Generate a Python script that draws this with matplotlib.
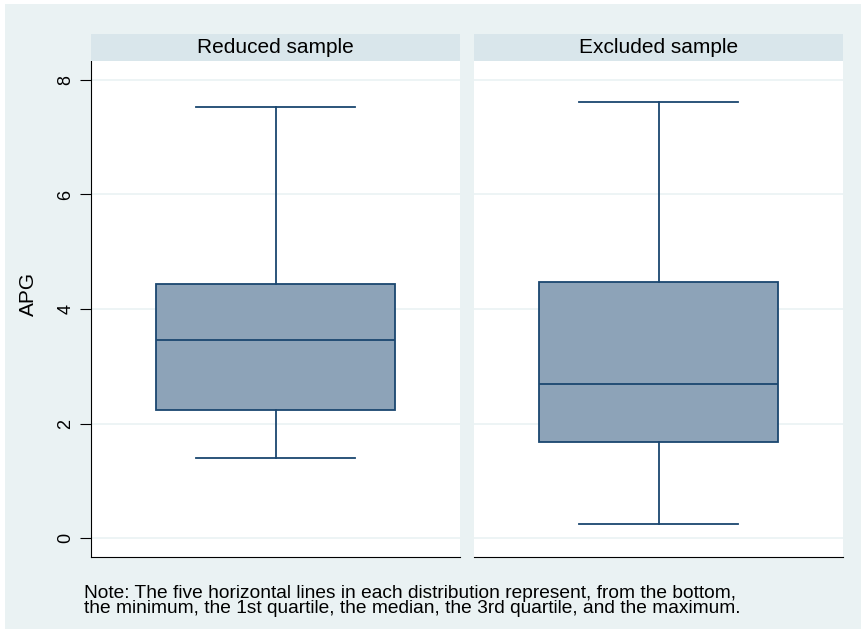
import matplotlib.pyplot as plt
from matplotlib.patches import Rectangle

plt.rcParams['font.family'] = ['Liberation Sans', 'DejaVu Sans']

# five-number summaries of APG per sample
groups = ['Reduced sample', 'Excluded sample']
mins = [1.40, 0.24]
q1s = [2.24, 1.68]
medians = [3.46, 2.69]
q3s = [4.44, 4.47]
maxs = [7.53, 7.62]
yticks = [0, 2, 4, 6, 8]

W, H = 861, 631
fig = plt.figure(figsize=(W / 100, H / 100), dpi=100)
fig.patch.set_facecolor('white')
# light graph region behind everything
fig.patches.append(Rectangle((5 / W, 0.003), 1 - 5 / W, 1 - 4 / H - 0.003,
                             transform=fig.transFigure, facecolor='#EAF2F3',
                             edgecolor='none', zorder=-1))

navy = '#1A476F'
fill = '#8DA3B8'
panels = [(91, 460), (474, 843)]
top, bottom, strip_top = 61, 557, 34

for i, (x0, x1) in enumerate(panels):
    ax = fig.add_axes([x0 / W, 1 - bottom / H, (x1 - x0) / W, (bottom - top) / H])
    ax.set_facecolor('white')
    ax.set_xlim(0, 1)
    ax.set_ylim(-0.33, 8.33)
    for y in yticks:
        ax.axhline(y, color='#EAF2F3', lw=1.2, zorder=0)
    ax.boxplot([[mins[i], q1s[i], medians[i], q3s[i], maxs[i]]],
               positions=[0.5], widths=0.645, whis=(0, 100),
               patch_artist=True, showfliers=False,
               boxprops=dict(facecolor=fill, edgecolor=navy, lw=1.3),
               medianprops=dict(color=navy, lw=1.3),
               whiskerprops=dict(color=navy, lw=1.3),
               capprops=dict(color=navy, lw=1.3),
               capwidths=0.432)
    for s in ['top', 'right']:
        ax.spines[s].set_visible(False)
    ax.spines['bottom'].set_color('black')
    ax.set_xticks([])
    if i == 0:
        ax.set_yticks(yticks)
        ax.set_yticklabels([str(t) for t in yticks], rotation=90, va='center', fontsize=13)
        ax.tick_params(axis='y', length=8, width=0.8, pad=4)
        ax.spines['left'].set_color('black')
        ax.set_ylabel('APG', fontsize=15)
        ax.yaxis.set_label_coords(-0.145, 0.53)
    else:
        ax.spines['left'].set_visible(False)
        ax.set_yticks([])

    # header strip
    sx = fig.add_axes([x0 / W, 1 - top / H, (x1 - x0) / W, (top - strip_top) / H])
    sx.set_facecolor('#D9E6EB')
    sx.set_xticks([])
    sx.set_yticks([])
    for s in sx.spines.values():
        s.set_visible(False)
    sx.text(0.5, 0.5, groups[i], ha='center', va='center', fontsize=15, transform=sx.transAxes)

fig.text(84 / W, 1 - 585 / H,
         'Note: The five horizontal lines in each distribution represent, from the bottom,\n'
         'the minimum, the 1st quartile, the median, the 3rd quartile, and the maximum.',
         ha='left', va='top', fontsize=13.8, linespacing=0.85)

fig.savefig('out.png', dpi=100)
